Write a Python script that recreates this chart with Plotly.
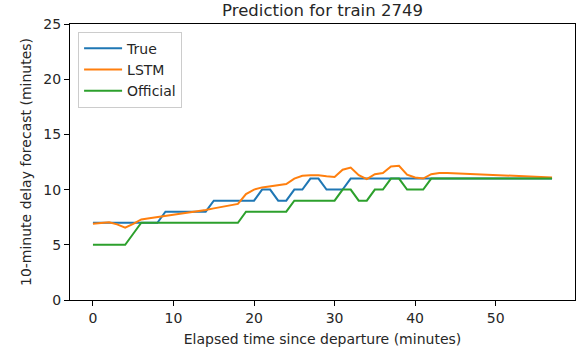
import plotly.graph_objects as go

# Elapsed minutes since departure
minutes = list(range(0, 45)) + [57]

# Delay forecasts (minutes)
true_delay = [7, 7, 7, 7, 7, 7, 7, 7, 7, 8,
              8, 8, 8, 8, 8, 9, 9, 9, 9, 9,
              9, 10, 10, 9, 9, 10, 10, 11, 11, 10,
              10, 10, 11, 11, 11, 11, 11, 11, 11, 11,
              11, 11, 11, 11, 11, 11]
lstm_delay = [6.9, 7.0, 7.05, 6.85, 6.55, 6.9, 7.3, 7.4, 7.5, 7.6,
              7.75, 7.85, 7.95, 8.05, 8.15, 8.3, 8.45, 8.55, 8.7, 9.6,
              10.0, 10.2, 10.3, 10.4, 10.5, 11.0, 11.25, 11.3, 11.3, 11.2,
              11.15, 11.8, 12.0, 11.3, 10.95, 11.4, 11.5, 12.1, 12.15, 11.35,
              11.1, 11.0, 11.4, 11.5, 11.5, 11.1]
official_delay = [5, 5, 5, 5, 5, 6, 7, 7, 7, 7,
                  7, 7, 7, 7, 7, 7, 7, 7, 7, 8,
                  8, 8, 8, 8, 8, 9, 9, 9, 9, 9,
                  9, 10, 10, 9, 9, 10, 10, 11, 11, 10,
                  10, 10, 11, 11, 11, 11]

series = [
    ("True", true_delay, "#1f77b4"),
    ("LSTM", lstm_delay, "#ff7f0e"),
    ("Official", official_delay, "#2ca02c"),
]

FONT = "DejaVu Sans"
TEXT = "#262626"

fig = go.Figure()
for name, values, color in series:
    fig.add_trace(go.Scatter(
        x=minutes, y=values, mode="lines", name=name,
        legendgroup=name,
        line=dict(color=color, width=2),
    ))

axis_common = dict(
    showgrid=False, zeroline=False,
    showline=True, linecolor="#000000", linewidth=1, mirror=True,
    ticks="outside", ticklen=5, tickwidth=1, tickcolor="#000000",
    tickfont=dict(family=FONT, size=14, color=TEXT),
)

fig.update_layout(
    width=584, height=353,
    margin=dict(l=70, r=9, t=24, b=53),
    paper_bgcolor="white", plot_bgcolor="white",
    font=dict(family=FONT, size=14, color=TEXT),
    title=dict(
        text="Prediction for train 2749",
        font=dict(family=FONT, size=16.5, color=TEXT),
        x=(70 + 575) / 2 / 584, xanchor="center",
        y=1 - 10 / 353, yanchor="middle", yref="container",
    ),
    xaxis=dict(
        range=[-2.85, 59.85], tickvals=[0, 10, 20, 30, 40, 50],
        title=dict(text="Elapsed time since departure (minutes)",
                   font=dict(family=FONT, size=14, color=TEXT), standoff=9),
        **axis_common,
    ),
    yaxis=dict(
        range=[0, 25], tickvals=[0, 5, 10, 15, 20, 25],
        title=dict(text="10-minute delay forecast (minutes)",
                   font=dict(family=FONT, size=14, color=TEXT), standoff=8),
        **axis_common,
    ),
    legend=dict(
        x=0.016, y=0.972, xanchor="left", yanchor="top",
        bgcolor="rgba(255,255,255,0.8)", bordercolor="#cccccc", borderwidth=1,
        font=dict(family=FONT, size=14, color=TEXT),
        tracegroupgap=0, itemwidth=38,
    ),
    showlegend=True,
)

fig.write_html("out.html")
